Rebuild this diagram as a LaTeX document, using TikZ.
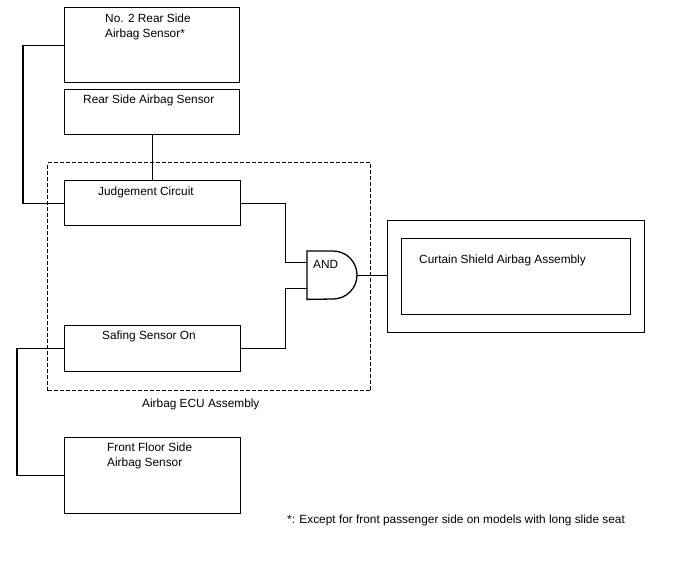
\documentclass[tikz,border=0pt]{standalone}
\usepackage{fontspec}
\setmainfont{Liberation Sans}
\begin{document}
\begin{tikzpicture}[x=1pt,y=-1pt,
  box/.style={draw, line width=1.3pt, inner sep=0pt, anchor=north west},
  ecubox/.style={draw, line width=1.2pt, dash pattern=on 4pt off 2pt, inner sep=0pt, anchor=north west},
  lbl/.style={anchor=base west, inner sep=0pt, font=\fontsize{11.85}{15}\selectfont, align=left},
  wire/.style={line width=1.3pt}]
\useasboundingbox (0,0) rectangle (688,560);
% boxes
\node[box, minimum width=175pt, minimum height=75pt] (no2) at (64,7) {};
\node[box, minimum width=175pt, minimum height=45pt] (rs) at (64,89) {};
\node[box, minimum width=176pt, minimum height=45pt] (jc) at (64,180) {};
\node[box, minimum width=176pt, minimum height=46pt] (ss) at (64,325) {};
\node[box, minimum width=176pt, minimum height=76pt] (ff) at (64,437) {};
\node[box, minimum width=257pt, minimum height=112pt] (outer) at (387,220) {};
\node[box, minimum width=229pt, minimum height=76pt] (inner) at (401,238) {};
% AND gate
\node[inner sep=0pt, minimum width=50pt, minimum height=48pt, anchor=north west] (andg) at (307,251) {};
\draw[wire] (andg.north west) -- ++(26,0) arc[start angle=-90, end angle=90, radius=24] -- (andg.south west) -- cycle;
\coordinate (in1) at ([yshift=13pt]andg.west);
\coordinate (in2) at ([yshift=-13pt]andg.west);
% connectors
\draw[wire] (rs.south) -- (rs.south |- jc.north);
\draw[wire] (no2.west) -- ++(-41,0) |- (jc.west);
\draw[wire] (ss.west) -- ++(-47,0) |- (ff.west);
\draw[wire] (jc.east) -- ++(44,0) |- (in1);
\draw[wire] (ss.east) -- ++(44,0) |- (in2);
\draw[wire] (andg.east) -- (andg.east -| outer.west);
% dashed ECU boundary
\node[ecubox, minimum width=323pt, minimum height=228pt] (ecu) at (47,162) {};
% labels
\node[lbl] (no2l) at (105,37) {No. 2 Rear Side\\Airbag Sensor*};
\node[lbl] (rsl) at (83,103) {Rear Side Airbag Sensor};
\node[lbl] (jcl) at (98,195) {Judgement Circuit};
\node[lbl] (ssl) at (102,339) {Safing Sensor On};
\node[lbl] (ffl) at (107,466) {Front Floor Side\\Airbag Sensor};
\node[lbl] (ecul) at (142,407) {Airbag ECU Assembly};
\node[lbl] (andl) at (313,268) {AND};
\node[lbl] (csl) at (419,263) {Curtain Shield Airbag Assembly};
\node[lbl] (note) at (287,523) {*: Except for front passenger side on models with long slide seat};
\end{tikzpicture}
\end{document}
